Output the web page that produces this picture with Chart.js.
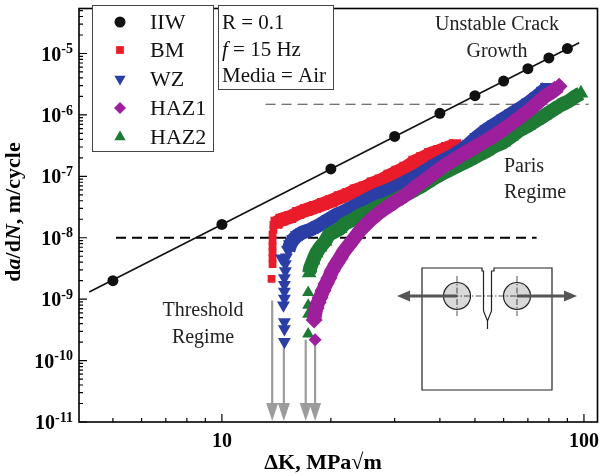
<!DOCTYPE html>
<html>
<head>
  <meta charset="UTF-8">
  <style>
    html, body { margin: 0; padding: 0; background: #fff; }
    #wrap { width: 606px; height: 476px; position: relative; }
  </style>
</head>
<body>
  <div id="wrap"><canvas id="fcg"></canvas></div>

  <script src="https://cdn.jsdelivr.net/npm/chart.js@4.4.0/dist/chart.umd.min.js"></script>
  <script>
    // IIW design curve (markers + straight line)
    const iiwK = [5, 10, 20, 30, 40, 50, 60, 70, 80, 90]
    const iiwRate = [2.0e-9, 1.65e-8, 1.32e-7, 4.46e-7, 1.06e-6, 2.06e-6, 3.56e-6, 5.66e-6, 8.45e-6, 1.2e-5]
    const iiwLineK = [4.3, 97]
    const iiwLineRate = [1.31e-9, 1.5e-5]

    // BM: threshold column + main band
    const bmTailK = [13.71, 13.80, 13.80, 13.80, 13.80, 13.80, 13.80, 13.88, 13.88]
    const bmTailRate = [2.14e-9, 3.73e-9, 4.65e-9, 5.80e-9, 7.23e-9, 9.02e-9, 1.125e-8, 1.35e-8, 1.626e-8]
    const bmK = [14.15, 14.60, 15.45, 16.25, 17.10, 18.09, 19.03, 20.01, 21.18, 22.28, 23.43, 24.80, 26.09, 27.44, 29.04, 30.54, 32.13, 34.01, 35.77, 37.62, 39.81, 41.87, 44.04]
    const bmRate = [1.75e-8, 1.96e-8, 2.18e-8, 2.53e-8, 2.83e-8, 3.16e-8, 3.53e-8, 3.94e-8, 4.56e-8, 5.10e-8, 5.90e-8, 6.59e-8, 7.64e-8, 8.53e-8, 1.026e-7, 1.19e-7, 1.38e-7, 1.72e-7, 1.99e-7, 2.31e-7, 2.58e-7, 2.88e-7, 3.21e-7]

    // WZ
    const wzTailK = [14.88, 14.88, 14.88, 14.79, 14.88, 14.88, 14.88, 14.88, 14.97, 14.97, 15.07, 14.60]
    const wzTailRate = [2.03e-10, 3.27e-10, 4.24e-10, 7.93e-10, 1.026e-9, 1.33e-9, 1.72e-9, 2.22e-9, 2.88e-9, 3.73e-9, 4.82e-9, 4.65e-9]
    const wzK = [15.26, 15.45, 15.75, 16.15, 16.67, 17.53, 18.44, 19.64, 20.66, 21.86, 22.99, 24.18, 25.60, 26.92, 28.32, 29.97, 31.52, 33.16, 35.10, 36.92, 38.82, 41.09, 43.21, 45.45, 48.10, 50.59, 53.89, 56.68, 59.99, 63.10, 66.37, 70.25, 73.87, 77.21, 79.18]
    const wzRate = [6.24e-9, 7.78e-9, 9.36e-9, 1.085e-8, 1.21e-8, 1.35e-8, 1.57e-8, 1.96e-8, 2.35e-8, 2.72e-8, 3.16e-8, 3.66e-8, 4.40e-8, 5.10e-8, 5.69e-8, 6.59e-8, 7.64e-8, 8.86e-8, 1.065e-7, 1.28e-7, 1.54e-7, 1.85e-7, 2.14e-7, 2.58e-7, 3.33e-7, 4.32e-7, 5.80e-7, 6.97e-7, 8.69e-7, 1.045e-6, 1.257e-6, 1.57e-6, 1.96e-6, 2.44e-6, 2.83e-6]

    // HAZ1
    const haz1TailK = [18.09]
    const haz1TailRate = [2.18e-10]
    const haz1K = [17.98, 18.21, 18.44, 18.67, 19.03, 19.39, 19.76, 20.14, 20.66, 21.18, 21.73, 22.28, 23.28, 24.18, 25.60, 26.92, 28.32, 29.97, 31.52, 33.16, 34.66, 36.92, 39.32, 41.09, 43.21, 45.45, 48.41, 50.59, 53.89, 56.68, 59.99, 63.10, 66.37, 70.25, 73.87, 77.67, 82.24, 85.41]
    const haz1Rate = [4.56e-10, 7.10e-10, 8.86e-10, 1.065e-9, 1.38e-9, 1.78e-9, 2.22e-9, 2.88e-9, 3.73e-9, 4.65e-9, 6.01e-9, 7.23e-9, 1.007e-8, 1.35e-8, 1.89e-8, 2.44e-8, 3.04e-8, 3.80e-8, 4.56e-8, 5.69e-8, 7.10e-8, 9.19e-8, 1.234e-7, 1.48e-7, 1.78e-7, 2.14e-7, 2.67e-7, 3.10e-7, 3.87e-7, 4.65e-7, 5.80e-7, 7.23e-7, 9.02e-7, 1.167e-6, 1.51e-6, 1.96e-6, 2.44e-6, 2.93e-6]

    // HAZ2
    const haz2TailK = [17.31, 17.31, 17.31, 17.31]
    const haz2TailRate = [2.72e-10, 5.69e-10, 7.93e-10, 1.28e-9]
    const haz2K = [17.42, 17.53, 17.87, 18.21, 18.67, 19.27, 19.76, 21.18, 21.86, 22.99, 24.18, 25.60, 26.92, 28.32, 29.97, 31.52, 33.16, 35.10, 36.92, 38.82, 41.09, 43.21, 45.45, 48.41, 51.23, 53.89, 56.68, 59.99, 63.10, 66.37, 70.25, 73.87, 77.67, 82.24, 86.49, 90.98, 95.07, 98.1]
    const haz2Rate = [2.67e-9, 3.21e-9, 4.32e-9, 5.59e-9, 6.97e-9, 8.69e-9, 1.125e-8, 1.40e-8, 1.69e-8, 1.96e-8, 2.35e-8, 2.72e-8, 3.16e-8, 3.53e-8, 4.08e-8, 4.73e-8, 5.48e-8, 6.59e-8, 7.93e-8, 9.53e-8, 1.146e-7, 1.328e-7, 1.54e-7, 1.85e-7, 2.22e-7, 2.58e-7, 3.10e-7, 3.59e-7, 4.48e-7, 5.59e-7, 6.72e-7, 8.08e-7, 9.71e-7, 1.21e-6, 1.456e-6, 1.69e-6, 2.03e-6, 2.25e-6]

    // regime boundaries
    const lowDashK = [5.1, 74]
    const lowDashRate = [1e-8, 1e-8]
    const highDashK = [13.2, 103]
    const highDashRate = [1.49e-6, 1.49e-6]

    // threshold arrows (start of arrow, down to axis)
    const arrowK = [13.77, 14.83, 17.04, 18.09]
    const arrowFrom = [9.5e-10, 1.63e-10, 2.18e-10, 1.82e-10]

    // axis ticks
    const xMin = 4.03, xMax = 109
    const yMin = 1e-11, yMax = 5.4e-5
    const xTickVals = [10, 100]
    const yTickExp = [-11, -10, -9, -8, -7, -6, -5]

    const legendNames = ['IIW', 'BM', 'WZ', 'HAZ1', 'HAZ2']

    const RED = '#ea1b2a', BLUE = '#2b3ea6', PURPLE = '#9e1f9c', GREEN = '#1e7b34'
    const serif = "'Liberation Serif', 'Times New Roman', serif"

    const pts = (k, r) => k.map((v, i) => ({ x: v, y: r[i] }))

    function band(label, k, r, color, style, rot) {
      return {
        label, data: pts(k, r), showLine: true, borderColor: color, borderWidth: 14,
        borderCapStyle: 'butt', borderJoinStyle: 'round', backgroundColor: color,
        pointStyle: style, rotation: rot, pointRadius: 8.5, pointBorderWidth: 0
      }
    }

    function tail(label, k, r, color, style, rot, rad) {
      return {
        label, data: pts(k, r), showLine: false, backgroundColor: color, borderColor: color,
        pointStyle: style, rotation: rot, pointRadius: rad, pointBorderWidth: 0
      }
    }

    function dash(k, r, color, width) {
      return {
        data: pts(k, r), showLine: true, borderColor: color, borderWidth: width,
        borderDash: [10, 6], pointRadius: 0
      }
    }

    function marker(ctx, style, rad, rot, x, y, color) {
      ctx.fillStyle = color
      ctx.strokeStyle = color
      Chart.helpers.drawPoint(ctx, { pointStyle: style, radius: rad, rotation: rot, borderWidth: 0 }, x, y)
    }

    function richText(ctx, parts, x, y, size, align) {
      // parts: [text, italic, bold]
      let total = 0
      parts.forEach(p => {
        ctx.font = `${p[1] ? 'italic ' : ''}${p[2] ? 'bold ' : ''}${size}px ${serif}`
        total += ctx.measureText(p[0]).width
      })
      let cx = align === 'center' ? x - total / 2 : x
      ctx.textAlign = 'left'
      parts.forEach(p => {
        ctx.font = `${p[1] ? 'italic ' : ''}${p[2] ? 'bold ' : ''}${size}px ${serif}`
        ctx.fillText(p[0], cx, y)
        cx += ctx.measureText(p[0]).width
      })
    }

    const arrowsPlugin = {
      id: 'arrows',
      beforeDatasetsDraw(chart) {
        const { ctx, chartArea: a, scales: { x, y } } = chart
        ctx.save()
        ctx.strokeStyle = '#9c9c9c'
        ctx.fillStyle = '#9c9c9c'
        ctx.lineWidth = 2.2
        arrowK.forEach((k, i) => {
          const px = x.getPixelForValue(k)
          const top = y.getPixelForValue(arrowFrom[i])
          const bot = a.bottom - 1
          ctx.beginPath()
          ctx.moveTo(px, top)
          ctx.lineTo(px, bot - 14)
          ctx.stroke()
          ctx.beginPath()
          ctx.moveTo(px - 6, bot - 18)
          ctx.lineTo(px + 6, bot - 18)
          ctx.lineTo(px, bot)
          ctx.closePath()
          ctx.fill()
        })
        ctx.restore()
      }
    }

    function drawSpecimen(ctx) {
      ctx.save()
      ctx.strokeStyle = '#222'
      ctx.lineWidth = 1.2
      ctx.beginPath()
      ctx.moveTo(482, 268)
      ctx.lineTo(422, 268)
      ctx.lineTo(422, 390)
      ctx.lineTo(552, 390)
      ctx.lineTo(552, 268)
      ctx.lineTo(494, 268)
      ctx.lineTo(494, 271)
      ctx.lineTo(491.5, 271)
      ctx.lineTo(491.5, 311)
      ctx.lineTo(487.5, 321)
      ctx.lineTo(483.5, 311)
      ctx.lineTo(483.5, 271)
      ctx.lineTo(482, 271)
      ctx.closePath()
      ctx.stroke()
      ctx.beginPath()
      ctx.moveTo(487.5, 321)
      ctx.lineTo(487.5, 329)
      ctx.stroke()

      // pins
      ;[457, 517].forEach(cx => {
        ctx.beginPath()
        ctx.arc(cx, 296, 13.5, 0, Math.PI * 2)
        ctx.fillStyle = '#d9d9d9'
        ctx.fill()
        ctx.stroke()
      })
      // centre lines
      ctx.setLineDash([6, 2, 1.5, 2])
      ctx.lineWidth = 0.8
      ctx.beginPath()
      ctx.moveTo(441, 296); ctx.lineTo(533, 296)
      ;[457, 517].forEach(cx => { ctx.moveTo(cx, 276); ctx.lineTo(cx, 316) })
      ctx.stroke()
      ctx.setLineDash([])

      // load arrows
      ctx.strokeStyle = '#555'
      ctx.fillStyle = '#555'
      ctx.lineWidth = 3
      ctx.beginPath()
      ctx.moveTo(457, 296); ctx.lineTo(408, 296)
      ctx.moveTo(517, 296); ctx.lineTo(566, 296)
      ctx.stroke()
      ctx.beginPath()
      ctx.moveTo(397, 296); ctx.lineTo(410, 290.5); ctx.lineTo(410, 301.5); ctx.closePath()
      ctx.moveTo(577, 296); ctx.lineTo(564, 290.5); ctx.lineTo(564, 301.5); ctx.closePath()
      ctx.fill()
      ctx.restore()
    }

    const decorPlugin = {
      id: 'decor',
      afterDraw(chart) {
        const { ctx, chartArea: a, scales: { x, y } } = chart
        ctx.save()

        // frame
        ctx.strokeStyle = '#000'
        ctx.lineWidth = 1.6
        ctx.strokeRect(a.left, a.top, a.right - a.left, a.bottom - a.top)

        // inward ticks
        ctx.lineWidth = 1.2
        ctx.beginPath()
        for (let e = -11; e <= -5; e++) {
          for (let m = 1; m <= 9; m++) {
            const v = m * Math.pow(10, e)
            if (v > yMax) break
            const py = y.getPixelForValue(v)
            ctx.moveTo(a.left, py)
            ctx.lineTo(a.left + (m === 1 ? 8 : 4), py)
          }
        }
        for (let e = 0; e <= 2; e++) {
          for (let m = 1; m <= 9; m++) {
            const v = m * Math.pow(10, e)
            if (v < xMin || v > xMax) continue
            const px = x.getPixelForValue(v)
            ctx.moveTo(px, a.bottom)
            ctx.lineTo(px, a.bottom - (m === 1 ? 8 : 4))
          }
        }
        ctx.stroke()

        // tick labels
        ctx.fillStyle = '#000'
        ctx.textBaseline = 'middle'
        yTickExp.forEach(e => {
          const py = y.getPixelForValue(Math.pow(10, e))
          ctx.font = `bold 14px ${serif}`
          ctx.textAlign = 'right'
          const sup = String(e)
          const w = ctx.measureText(sup).width
          ctx.fillText(sup, 73, py - 4)
          ctx.font = `bold 20px ${serif}`
          ctx.fillText('10', 73 - w, py + 2)
        })
        ctx.font = `bold 20px ${serif}`
        ctx.textAlign = 'center'
        xTickVals.forEach(v => ctx.fillText(String(v), x.getPixelForValue(v), 442))

        // axis titles
        ctx.textBaseline = 'middle'
        richText(ctx, [['\u0394K, MPa\u221Am', false, true]], 323, 463, 22, 'center')
        ctx.save()
        ctx.translate(14, 212)
        ctx.rotate(-Math.PI / 2)
        richText(ctx, [['d', false, true], ['a', true, true], ['/d', false, true], ['N', true, true], [', m/cycle', false, true]], 0, 0, 22, 'center')
        ctx.restore()

        // legend box
        ctx.fillStyle = '#fff'
        ctx.fillRect(92, 5, 121, 146)
        ctx.strokeStyle = '#444'
        ctx.lineWidth = 1
        ctx.strokeRect(92.5, 5.5, 121, 146)
        const lm = [['circle', 5.5, 0, '#111'], ['rect', 5.5, 0, RED], ['triangle', 6.5, 180, BLUE], ['rectRot', 6, 0, PURPLE], ['triangle', 6.5, 0, GREEN]]
        const ly = [22, 50, 79, 108, 137]
        legendNames.forEach((n, i) => {
          marker(ctx, lm[i][0], lm[i][1], lm[i][2], 120, ly[i], lm[i][3])
          ctx.fillStyle = '#111'
          ctx.font = `22px ${serif}`
          ctx.textAlign = 'left'
          ctx.fillText(n, 150, ly[i] + 1)
        })

        // conditions box
        ctx.fillStyle = '#fff'
        ctx.fillRect(218, 5, 115, 84)
        ctx.strokeStyle = '#444'
        ctx.strokeRect(218.5, 5.5, 115, 84)
        ctx.fillStyle = '#111'
        richText(ctx, [['R = 0.1', false]], 222, 23, 21, 'left')
        richText(ctx, [['f', true], [' = 15 Hz', false]], 222, 50, 21, 'left')
        richText(ctx, [['Media = Air', false]], 222, 76, 21, 'left')

        // regime annotations
        ctx.fillStyle = '#222'
        richText(ctx, [['Unstable Crack', false]], 497, 25, 20, 'center')
        richText(ctx, [['Growth', false]], 497, 52, 20, 'center')
        richText(ctx, [['Paris', false]], 504, 167, 20, 'left')
        richText(ctx, [['Regime', false]], 504, 193, 20, 'left')
        richText(ctx, [['Threshold', false]], 203, 311, 20, 'center')
        richText(ctx, [['Regime', false]], 203, 338, 20, 'center')

        drawSpecimen(ctx)
        ctx.restore()
      }
    }

    const ctx = document.getElementById('fcg').getContext('2d')

    const chart = new Chart(ctx, {
      type: 'scatter',
      data: {
        datasets: [
          { label: 'IIW', data: pts(iiwK, iiwRate), pointStyle: 'circle', pointRadius: 5.5, backgroundColor: '#111', borderColor: '#111', pointBorderWidth: 0 },
          { data: pts(iiwLineK, iiwLineRate), showLine: true, borderColor: '#111', borderWidth: 1.6, pointRadius: 0 },
          tail('HAZ1', haz1TailK, haz1TailRate, PURPLE, 'rectRot', 0, 6.5),
          band('HAZ1', haz1K, haz1Rate, PURPLE, 'rectRot', 0),
          tail('HAZ2', haz2TailK, haz2TailRate, GREEN, 'triangle', 0, 7),
          band('HAZ2', haz2K, haz2Rate, GREEN, 'triangle', 0),
          tail('WZ', wzTailK, wzTailRate, BLUE, 'triangle', 180, 7.5),
          band('WZ', wzK, wzRate, BLUE, 'triangle', 180),
          tail('BM', bmTailK, bmTailRate, RED, 'rect', 0, 5.5),
          band('BM', bmK, bmRate, RED, 'rect', 0),
          dash(highDashK, highDashRate, '#444', 1.2),
          dash(lowDashK, lowDashRate, '#000', 2)
        ]
      },
      options: {
        responsive: true,
        maintainAspectRatio: false,
        animation: false,
        events: [],
        layout: { padding: { left: 79, right: 4, top: 1, bottom: 54 } },
        plugins: { legend: { display: false }, tooltip: { enabled: false } },
        scales: {
          x: { type: 'logarithmic', min: xMin, max: xMax, display: false },
          y: { type: 'logarithmic', min: yMin, max: yMax, display: false }
        }
      },
      plugins: [arrowsPlugin, decorPlugin]
    })
  </script>
</body>
</html>
